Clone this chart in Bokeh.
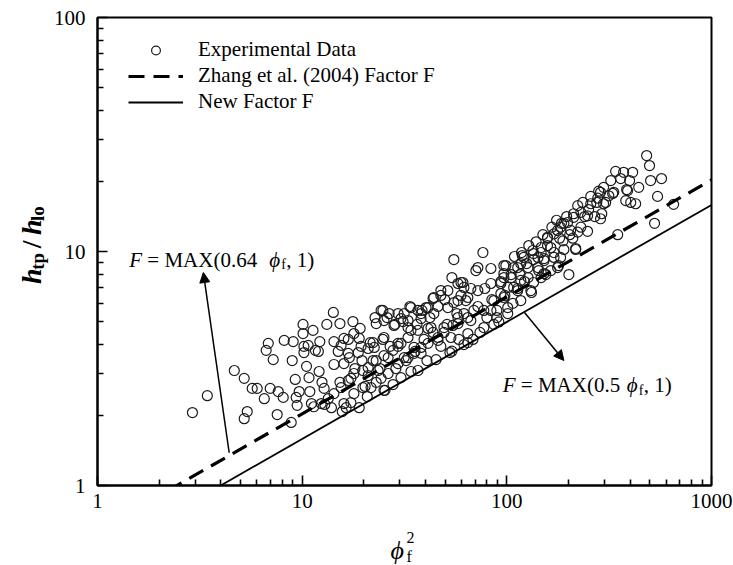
import math
from bokeh.plotting import figure
from bokeh.layouts import row, column
from bokeh.core.properties import value
from bokeh.models import (Range1d, FixedTicker, PrintfTickFormatter, Label, Arrow,
                          NormalHead, Legend, LegendItem, ColumnDataSource)
from bokeh.embed import file_html
from bokeh.resources import INLINE

# ---------------- data ----------------
phi2 = [
    2.91, 3.44, 4.66, 5.21, 5.21, 5.39, 5.70, 6.03, 6.53, 6.67, 6.83, 7.22, 6.98, 7.55, 7.64, 8.08,
    8.17, 8.94, 8.84, 9.04, 9.25, 9.35, 9.45, 9.67, 10.1, 10.2, 10.5, 10.8, 10.9, 11.1, 11.4, 11.3,
    11.6, 12.1, 12.2, 12.5, 12.8, 12.9, 13.2, 13.4, 13.9, 14.2, 14.3, 14.3, 15.0, 15.3, 15.3, 15.7,
    16.4, 16.8, 17.0, 17.3, 17.7, 17.9, 18.1, 19.0, 19.2, 19.4, 19.6, 20.3, 20.8, 21.0, 21.5, 22.2,
    22.7, 23.0, 24.0, 24.3, 24.8, 25.4, 26.0, 26.3, 26.9, 27.8, 28.4, 28.7, 29.4, 30.4, 31.1, 32.2,
    32.9, 33.6, 34.0, 35.6, 36.4, 36.8, 38.5, 39.4, 40.7, 42.1, 43.6, 45.1, 46.1, 47.6, 49.8, 51.0,
    52.7, 53.9, 55.1, 57.0, 58.3, 59.7, 61.7, 64.5, 66.7, 68.3, 70.6, 72.2, 73.9, 76.4, 78.1, 79.9,
    83.6, 84.5, 86.4, 89.4, 93.5, 96.7, 97.8, 101, 105, 107, 109, 113, 116, 118, 122, 125,
    128, 132, 135, 139, 143, 147, 150, 155, 158, 166, 170, 175, 177, 181, 185, 190,
    196, 201, 203, 212, 217, 222, 230, 235, 240, 251, 257, 269, 275, 281, 291, 297,
    304, 315, 322, 329, 348, 340, 372, 412, 398, 385, 403, 441, 360, 498, 482, 504,
    527, 545, 570, 653,
    10.1, 10.7, 12.0, 10.2, 15.5, 16.0, 17.9, 19.0, 16.8, 18.8, 21.0, 22.2, 23.0, 24.8, 25.1, 26.6,
    28.1, 29.4, 30.4, 32.9, 34.0, 36.8, 38.1, 40.3, 43.6, 47.6, 51.5, 57.7, 61.0, 63.1, 55.1, 44.0,
    41.2, 36.8, 30.4, 27.8, 25.1, 23.0, 21.0, 19.8, 17.9, 16.8, 15.5, 14.3, 12.4, 16.0, 23.5, 24.3,
    26.3, 29.4, 31.5, 35.2, 38.1, 41.2, 46.1, 49.3, 54.5, 57.7, 61.7, 25.1, 21.7, 19.8, 16.0, 17.3,
    29.4, 34.0, 25.1, 22.5,
    59.7, 72.2, 96.7, 113, 119, 135, 147, 158, 177, 190, 170, 152, 127, 108, 96.7, 86.4,
    77.2, 69.0, 64.5, 57.7, 51.5, 47.6, 44.0, 41.2, 38.1, 31.5, 32.9, 42.6, 49.3, 57.7, 66.7, 77.2,
    91.4, 101, 117, 131, 147, 164, 35.2, 46.1, 53.3, 64.5, 38.1, 32.9, 83.6, 72.2, 61.7, 105,
    93.5, 83.6,
    389, 426, 381, 333, 287, 278, 257, 297, 230, 248, 287, 212, 198, 205, 222, 248,
    183, 170, 158, 188, 210, 217, 164, 142, 152, 183, 134, 121, 117, 108, 98.9, 96.7,
    127, 142, 179, 101, 113, 93.5, 117, 152, 135,
    53.9, 64.5, 89.4,
]
htp = [
    2.05, 2.42, 3.10, 2.87, 1.93, 2.07, 2.60, 2.60, 2.35, 3.78, 4.05, 3.45, 2.60, 2.01, 2.52, 2.38,
    4.17, 3.42, 1.86, 4.12, 2.84, 2.38, 2.20, 2.52, 4.88, 3.93, 3.23, 2.89, 2.52, 2.24, 2.17, 4.60,
    3.78, 3.07, 4.12, 2.76, 2.60, 2.22, 4.88, 2.35, 2.15, 5.49, 4.12, 3.29, 3.74, 2.76, 4.92, 2.07,
    2.15, 4.21, 3.52, 2.87, 5.02, 2.47, 3.16, 2.15, 4.69, 3.93, 3.42, 2.65, 2.40, 2.95, 4.08, 3.42,
    5.22, 2.76, 3.16, 5.60, 4.21, 2.55, 5.22, 3.52, 3.93, 2.70, 4.88, 3.16, 3.93, 2.89, 5.02, 3.42,
    4.29, 5.82, 3.07, 3.74, 4.88, 3.10, 5.60, 4.21, 3.42, 5.22, 4.51, 3.45, 5.82, 3.93, 6.23, 4.88,
    3.70, 7.74, 9.24, 5.43, 4.21, 6.49, 4.00, 5.22, 6.95, 4.21, 8.29, 5.82, 4.51, 9.90, 6.95, 5.22,
    8.46, 6.23, 4.88, 5.60, 7.44, 8.71, 6.49, 5.43, 7.97, 6.00, 9.52, 6.95, 7.97, 9.90, 7.44, 8.88,
    10.6, 6.68, 9.24, 11.0, 8.29, 9.90, 11.8, 7.97, 10.6, 12.7, 9.90, 13.6, 8.54, 11.4, 13.2, 10.2,
    14.1, 7.97, 11.8, 14.5, 10.2, 15.7, 12.7, 16.2, 14.1, 15.1, 17.2, 14.1, 16.2, 18.1, 14.5, 18.8,
    16.2, 17.3, 20.1, 17.7, 11.8, 22.0, 21.8, 21.8, 20.1, 18.4, 16.2, 18.8, 20.5, 23.3, 25.7, 20.1,
    13.2, 17.2, 20.5, 15.9,
    4.46, 3.97, 3.74, 3.70, 3.97, 4.25, 4.46, 4.25, 3.67, 3.70, 3.85, 4.08, 4.92, 5.60, 5.07, 5.43,
    4.83, 5.43, 5.17, 5.07, 5.76, 5.60, 5.17, 5.76, 6.30, 6.49, 6.81, 7.30, 7.37, 6.17, 6.05, 5.43,
    4.69, 4.60, 4.05, 3.78, 3.59, 3.42, 3.19, 3.10, 3.01, 2.81, 2.62, 2.47, 2.24, 3.32, 3.10, 2.87,
    3.01, 3.32, 3.52, 3.67, 3.89, 4.05, 4.29, 4.51, 4.83, 5.22, 5.43, 2.55, 2.62, 2.62, 2.24, 2.26,
    4.05, 4.60, 4.29, 3.89,
    7.37, 8.54, 8.05, 8.54, 9.61, 9.80, 10.4, 11.5, 12.3, 13.2, 9.43, 9.15, 7.74, 7.02, 6.36, 6.17,
    5.60, 5.60, 6.36, 6.17, 5.76, 6.81, 6.36, 5.76, 5.43, 5.43, 4.73, 4.73, 4.73, 4.92, 5.07, 4.73,
    5.00, 5.76, 6.17, 6.81, 7.74, 8.29, 3.89, 4.17, 4.29, 4.46, 3.67, 3.52, 7.30, 6.81, 7.02, 7.74,
    7.30, 5.60,
    18.2, 16.0, 16.5, 17.9, 17.9, 16.9, 16.0, 16.0, 14.7, 14.2, 13.8, 14.0, 13.3, 12.3, 12.1, 12.2,
    12.7, 11.9, 11.4, 11.1, 11.4, 10.3, 10.4, 9.43, 9.33, 9.43, 10.1, 9.43, 8.88, 8.54, 8.71, 7.74,
    8.54, 8.54, 8.71, 7.02, 6.81, 6.61, 7.52, 8.05, 7.37,
    3.75, 4.08, 5.22,
]

# correlation lines (straight on log-log axes): F = MAX(0.64 phi_f, 1) and F = MAX(0.5 phi_f, 1)
zhang_x = [2.2, 1000.0]
zhang_y = [0.949, 20.24]
new_x = [4.0, 1000.0]
new_y = [1.0, 15.81]

x_ticks = [1, 10, 100, 1000]
y_ticks = [1, 10, 100]
x_minor = [m * 10 ** k for k in range(0, 3) for m in range(2, 10)]
y_minor = [m * 10 ** k for k in range(0, 2) for m in range(2, 10)]

SERIF = "Liberation Serif"
FS = "21px"

# ---------------- main figure ----------------
p = figure(width=683, height=520, x_axis_type="log", y_axis_type="log",
           x_range=Range1d(1, 1000), y_range=Range1d(1, 100),
           output_backend="svg", toolbar_location=None,
           min_border_left=46, min_border_right=22, min_border_top=17, min_border_bottom=35)
p.background_fill_color = "white"
p.border_fill_color = "white"
p.xgrid.visible = False
p.ygrid.visible = False
p.outline_line_color = "black"
p.outline_line_width = 2
p.outline_line_alpha = 1

p.xaxis.ticker = FixedTicker(ticks=x_ticks, minor_ticks=x_minor)
p.yaxis.ticker = FixedTicker(ticks=y_ticks, minor_ticks=y_minor)
for ax in (p.xaxis[0], p.yaxis[0]):
    ax.formatter = PrintfTickFormatter(format="%d")
    ax.axis_line_width = 2
    ax.axis_line_color = "black"
    ax.major_tick_in = 10
    ax.major_tick_out = 0
    ax.minor_tick_in = 6
    ax.minor_tick_out = 0
    ax.major_tick_line_width = 1.6
    ax.minor_tick_line_width = 1.6
    ax.major_tick_line_color = "black"
    ax.minor_tick_line_color = "black"
    ax.major_label_text_font = SERIF
    ax.major_label_text_font_size = FS
    ax.major_label_text_color = "black"
p.xaxis.major_label_standoff = 8
p.yaxis.major_label_standoff = 12

src = ColumnDataSource(dict(phi2=phi2, htp=htp))
r_sc = p.scatter("phi2", "htp", source=src, marker="circle", size=10,
                 fill_color=None, line_color="#1c1c1c", line_width=1.2)
r_z = p.line(zhang_x, zhang_y, line_color="black", line_width=3.2, line_dash="16 9")
r_n = p.line(new_x, new_y, line_color="black", line_width=1.8)

legend = Legend(items=[LegendItem(label="Experimental Data", renderers=[r_sc]),
                       LegendItem(label="Zhang et al. (2004) Factor F", renderers=[r_z]),
                       LegendItem(label="New Factor F", renderers=[r_n])],
                location=(31, 371), glyph_width=55, glyph_height=22, label_height=22,
                spacing=1, padding=0, margin=0, border_line_color=None,
                background_fill_alpha=0, label_standoff=15,
                label_text_font=SERIF, label_text_font_size=FS, label_text_color="black")
p.add_layout(legend)


def lab(x, y, text, dx=0, dy=0, size=FS, style="normal"):
    p.add_layout(Label(x=x, y=y, x_offset=dx, y_offset=dy, text=text, text_font=SERIF,
                       text_font_size=size, text_font_style=style, text_color="black",
                       text_align="left", text_baseline="alphabetic"))


# annotation: F = MAX(0.64 phi_f, 1)
ax1, ay1 = 1.43, 9.24
lab(ax1, ay1, "F", 0, 0, style="italic")
lab(ax1, ay1, "= MAX(0.64", 18)
lab(ax1, ay1, "\u03d5", 140, 0, style="italic")
lab(ax1, ay1, "f", 152, -5, size="14px")
lab(ax1, ay1, ", 1)", 157)
p.add_layout(Arrow(end=NormalHead(size=10, fill_color="black", line_color="black"),
                   x_start=4.40, y_start=1.38, x_end=3.29, y_end=8.13,
                   line_width=1.5, line_color="black"))

# annotation: F = MAX(0.5 phi_f, 1)
ax2, ay2 = 95.6, 2.68
lab(ax2, ay2, "F", 0, 0, style="italic")
lab(ax2, ay2, "= MAX(0.5", 18)
lab(ax2, ay2, "\u03d5", 124, 0, style="italic")
lab(ax2, ay2, "f", 136, -5, size="14px")
lab(ax2, ay2, ", 1)", 141)
p.add_layout(Arrow(end=NormalHead(size=10, fill_color="black", line_color="black"),
                   x_start=122, y_start=5.49, x_end=190, y_end=3.42,
                   line_width=1.5, line_color="black"))


# ---------------- title strips (pixel-like ranges) ----------------
def strip(w, h):
    f = figure(width=w, height=h, x_range=Range1d(0, w), y_range=Range1d(0, h),
               output_backend="svg", toolbar_location=None,
               x_axis_location=None, y_axis_location=None, min_border=0)
    f.outline_line_color = None
    f.background_fill_color = "white"
    f.border_fill_color = "white"
    f.grid.visible = False
    return f


def txt(f, x, y, s, size, style="normal", angle=0.0):
    f.text(x=[x], y=[y], text=[s], text_font=value(SERIF), text_font_size=value(size),
           text_font_style=style, text_color="black", text_align="left",
           text_baseline="alphabetic", angle=angle)


# y axis title: h_tp / h_lo (rotated, reading upwards)
left = strip(50, 520)
rot = math.pi / 2
y0 = 224
txt(left, 31, y0, "h", "28px", "bold italic", rot)
txt(left, 37, y0 + 15.6, "tp", "19px", "bold", rot)
txt(left, 31, y0 + 39.5, "/", "28px", "bold", rot)
txt(left, 31, y0 + 54.3, "h", "28px", "bold italic", rot)
txt(left, 37, y0 + 69.9, "lo", "19px", "bold", rot)

# x axis title: phi_f^2
bottom = strip(733, 45)
txt(bottom, 390, 15, "\u03d5", "26px", "italic")
txt(bottom, 406, 9, "f", "16px")
txt(bottom, 406, 28, "2", "16px")

layout = column(row(left, p, spacing=0), bottom, spacing=0)
open("out.html", "w").write(file_html(layout, INLINE))
